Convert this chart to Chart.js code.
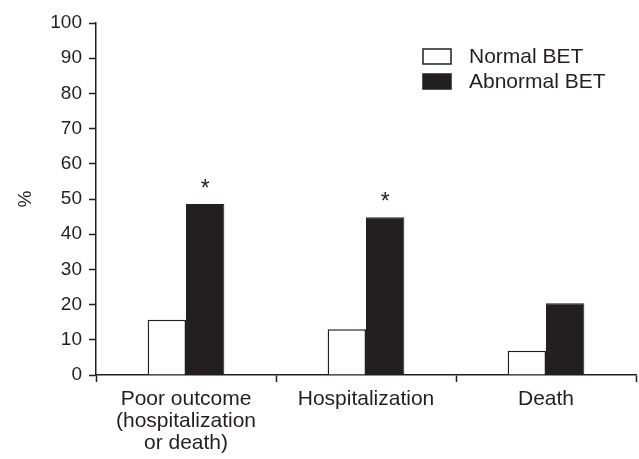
<!DOCTYPE html>
<html><head><meta charset="utf-8">
<style>html,body{margin:0;padding:0;background:#fff;overflow:hidden;}</style>
<script src="https://cdn.jsdelivr.net/npm/chart.js@4/dist/chart.umd.min.js"></script>
</head><body>
<canvas id="c" width="639" height="459" style="width:639px;height:459px;display:block"></canvas>
<script>
const categories = [["Poor outcome", "(hospitalization", "or death)"], ["Hospitalization"], ["Death"]];
const seriesLabels = ["Normal BET", "Abnormal BET"];
const normalBET = [15.7, 13.0, 6.9];
const abnormalBET = [48.6, 44.8, 20.4];
const significance = ["*", "*", ""];
const yMin = 0, yMax = 100, yStep = 10;
const yTitle = "%";

const INK = "#231f20";
const FONT = "'Liberation Sans', Arial, sans-serif";

const legendPlugin = {
  id: "boxLegend",
  afterDraw(chart) {
    const ctx = chart.ctx;
    ctx.save();
    chart.data.datasets.forEach((ds, i) => {
      const x = 423, y = 49 + i * 25, w = 28, h = 15;
      ctx.fillStyle = ds.backgroundColor;
      ctx.fillRect(x, y, w, h);
      ctx.lineWidth = 1.5;
      ctx.strokeStyle = ds.borderColor;
      ctx.strokeRect(x, y, w, h);
      ctx.fillStyle = INK;
      ctx.font = "21px " + FONT;
      ctx.textBaseline = "middle";
      ctx.textAlign = "left";
      ctx.fillText(ds.label, 469, y + h / 2 + 1);
    });
    ctx.restore();
  }
};

const starPlugin = {
  id: "stars",
  afterDatasetsDraw(chart) {
    const ctx = chart.ctx;
    const meta = chart.getDatasetMeta(1);
    ctx.save();
    ctx.fillStyle = INK;
    ctx.font = "23px " + FONT;
    ctx.textAlign = "center";
    ctx.textBaseline = "alphabetic";
    meta.data.forEach((bar, i) => {
      if (significance[i]) ctx.fillText(significance[i], bar.x, bar.y - 8);
    });
    ctx.restore();
  }
};

new Chart(document.getElementById("c"), {
  type: "bar",
  data: {
    labels: categories,
    datasets: [
      { label: seriesLabels[0], data: normalBET, backgroundColor: "#ffffff", borderColor: INK, borderWidth: 1.5, borderSkipped: "bottom" },
      { label: seriesLabels[1], data: abnormalBET, backgroundColor: INK, borderColor: INK, borderWidth: 1, borderSkipped: "bottom" }
    ]
  },
  plugins: [legendPlugin, starPlugin],
  options: {
    responsive: false,
    animation: false,
    devicePixelRatio: 1,
    layout: { padding: { top: 23, right: 3, left: 0, bottom: 0 } },
    plugins: { legend: { display: false }, tooltip: { enabled: false } },
    datasets: { bar: { categoryPercentage: 0.426, barPercentage: 1.0 } },
    scales: {
      x: {
        afterFit(scale) { scale.height = 84; },
        grid: { offset: true, drawOnChartArea: false, drawTicks: true, tickLength: 7, color: INK, tickWidth: 1.5 },
        border: { display: true, color: INK, width: 1.5 },
        ticks: { color: INK, font: { family: FONT, size: 21, lineHeight: 1.05 }, padding: 6, maxRotation: 0, autoSkip: false }
      },
      y: {
        min: yMin, max: yMax,
        afterFit(scale) { scale.width = 96; },
        grid: { drawOnChartArea: false, drawTicks: true, tickLength: 7, color: INK, tickWidth: 1.5 },
        border: { display: true, color: INK, width: 1.5 },
        ticks: { stepSize: yStep, color: INK, font: { family: FONT, size: 19 }, padding: 7 },
        title: { display: true, text: yTitle, color: INK, font: { family: FONT, size: 19 }, padding: { top: 14, bottom: 0 } }
      }
    }
  }
});
</script>
</body></html>
